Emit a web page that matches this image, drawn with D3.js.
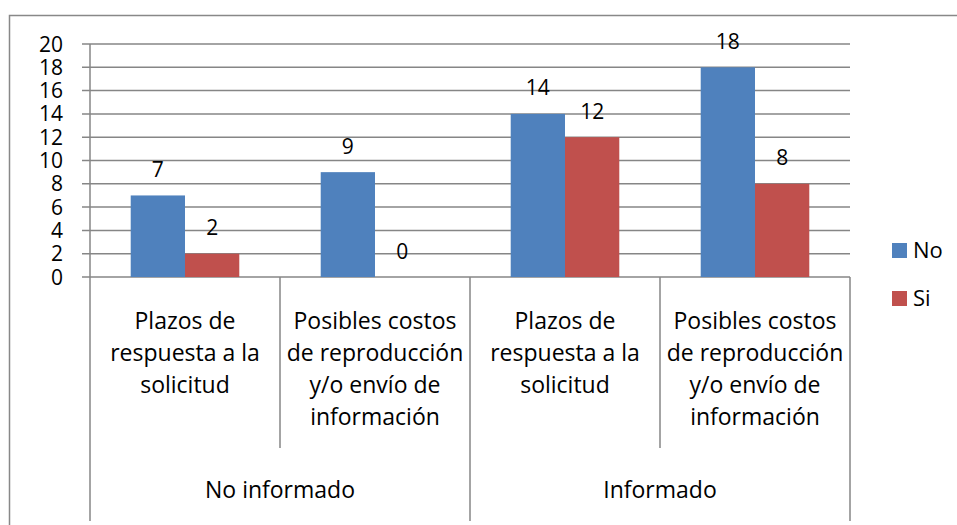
<!DOCTYPE html>
<html>
<head>
<meta charset="utf-8">
<script src="https://cdn.jsdelivr.net/npm/d3@7"></script>
<style>
  body { margin: 0; background: #fff; }
  svg { display: block; font-family: "Open Sans", Lato, sans-serif; }
</style>
</head>
<body>
<svg id="chart" width="957" height="525"></svg>
<script>
const groups = ['No informado', 'Informado']
const items = [
    ['Plazos de', 'respuesta a la', 'solicitud'],
    ['Posibles costos', 'de reproducción', 'y/o envío de', 'información']
]
const seriesNames = ['No', 'Si']
const noValues = [7, 9, 14, 18]
const siValues = [2, 0, 12, 8]
const yTicks = [0, 2, 4, 6, 8, 10, 12, 14, 16, 18, 20]
const colors = ['#4F81BD', '#C0504D']

// build the category list: each group holds both items
const categories = []
groups.forEach((g, gi) => items.forEach((it, ii) => categories.push({ group: g, gi: gi, lines: it, i: categories.length })))
const series = [noValues, siValues]

const margin = { left: 90, right: 107, top: 44, bottom: 248 }
const svg = d3.select('#chart')
const W = 957, H = 525
const x0 = margin.left, x1 = W - margin.right
const yTop = margin.top, yBot = H - margin.bottom
const fs = 21      // numbers
const fsCat = 23   // category text

// outer chart border
svg.append('rect')
    .attr('x', 9.5).attr('y', 15.5)
    .attr('width', 1000).attr('height', 600)
    .attr('fill', 'none').attr('stroke', '#888').attr('stroke-width', 1.5)

const x = d3.scaleBand()
    .domain(categories.map(d => d.i))
    .range([x0, x1])
    .paddingInner(0).paddingOuter(0)

const xs = d3.scaleBand()
    .domain(seriesNames)
    .range([0, x.bandwidth()])
    .paddingInner(0).paddingOuter(0.75)

const xg = d3.scaleBand()
    .domain(groups)
    .range([x0, x1])

const y = d3.scaleLinear()
    .domain([0, 20])
    .range([yBot, yTop])

// gridlines
svg.append('g')
    .selectAll('line')
    .data(yTicks)
    .enter()
    .append('line')
    .attr('x1', x0 - 8).attr('x2', x1)
    .attr('y1', d => y(d)).attr('y2', d => y(d))
    .attr('stroke', '#868686').attr('stroke-width', 1.5)

// y axis line
svg.append('line')
    .attr('x1', x0).attr('x2', x0)
    .attr('y1', yTop).attr('y2', yBot)
    .attr('stroke', '#868686').attr('stroke-width', 1.5)

// y tick labels
svg.append('g')
    .selectAll('text')
    .data(yTicks)
    .enter()
    .append('text')
    .attr('x', 63)
    .attr('y', d => y(d))
    .attr('dy', '0.36em')
    .attr('text-anchor', 'end')
    .attr('font-size', fs)
    .attr('fill', '#000')
    .text(d => d)

// bars
const bars = svg.append('g')
seriesNames.forEach((s, si) => {
    bars.append('g')
        .selectAll('rect')
        .data(series[si])
        .enter()
        .append('rect')
        .attr('x', (d, i) => x(i) + xs(s))
        .attr('y', d => y(d))
        .attr('width', xs.bandwidth())
        .attr('height', d => y(0) - y(d))
        .attr('fill', colors[si])
})

// data labels
seriesNames.forEach((s, si) => {
    svg.append('g')
        .selectAll('text')
        .data(series[si])
        .enter()
        .append('text')
        .attr('x', (d, i) => x(i) + xs(s) + xs.bandwidth() / 2)
        .attr('y', d => y(d) - 26)
        .attr('dy', '0.36em')
        .attr('text-anchor', 'middle')
        .attr('font-size', fs)
        .attr('fill', '#000')
        .text(d => d)
})

// category separators
const catSep = svg.append('g').attr('stroke', '#868686').attr('stroke-width', 1.5)
categories.forEach(c => {
    if (c.i % items.length === 0) return
    catSep.append('line')
        .attr('x1', x(c.i)).attr('x2', x(c.i))
        .attr('y1', yBot).attr('y2', 448)
})
groups.concat(['end']).forEach((g, gi) => {
    const gx = gi < groups.length ? xg(g) : x1
    catSep.append('line')
        .attr('x1', gx).attr('x2', gx)
        .attr('y1', yBot).attr('y2', 521)
})

// category labels
categories.forEach(c => {
    const t = svg.append('text')
        .attr('text-anchor', 'middle')
        .attr('font-size', fsCat)
        .attr('fill', '#000')
    c.lines.forEach((ln, li) => {
        t.append('tspan')
            .attr('x', x(c.i) + x.bandwidth() / 2)
            .attr('y', 321 + li * 32)
            .attr('dy', '0.36em')
            .text(ln)
    })
})

// group labels
svg.append('g')
    .selectAll('text')
    .data(groups)
    .enter()
    .append('text')
    .attr('x', d => xg(d) + xg.bandwidth() / 2)
    .attr('y', 490)
    .attr('dy', '0.36em')
    .attr('text-anchor', 'middle')
    .attr('font-size', fsCat)
    .attr('fill', '#000')
    .text(d => d)

// legend
const legend = svg.append('g')
    .selectAll('g')
    .data(seriesNames)
    .enter()
    .append('g')
    .attr('transform', (d, i) => `translate(892, ${243 + i * 48})`)
legend.append('rect')
    .attr('width', 15).attr('height', 15)
    .attr('fill', (d, i) => colors[i])
legend.append('text')
    .attr('x', 21).attr('y', 7.5)
    .attr('dy', '0.36em')
    .attr('font-size', 22)
    .attr('fill', '#000')
    .text(d => d)
</script>
</body>
</html>
